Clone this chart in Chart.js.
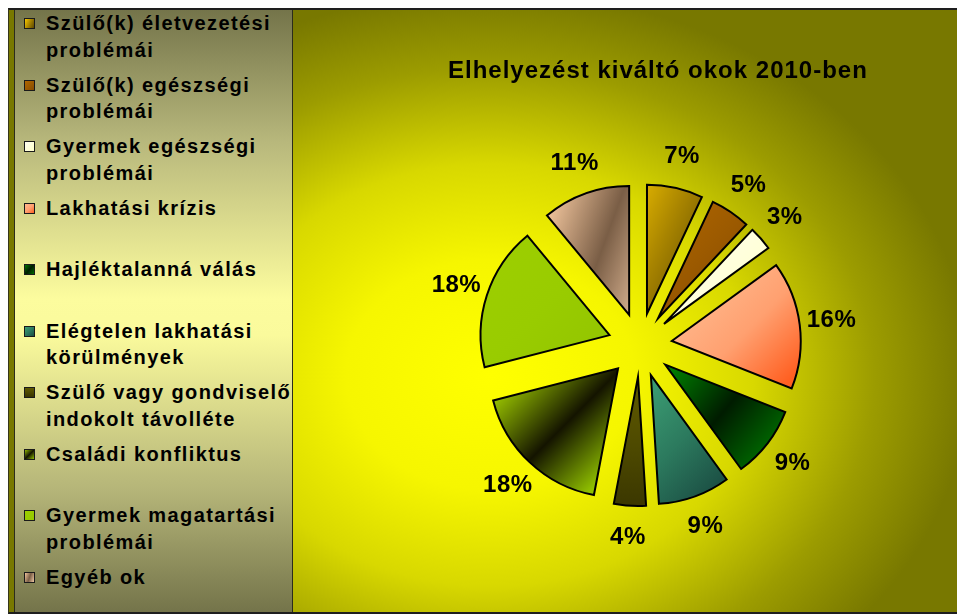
<!DOCTYPE html>
<html lang="hu">
<head>
<meta charset="utf-8">
<title>Elhelyezést kiváltó okok 2010-ben</title>
<script src="https://cdn.jsdelivr.net/npm/chart.js@4.4.1/dist/chart.umd.min.js"></script>
<style>
    html, body { margin: 0; padding: 0; background: #fff; }
    body { position: relative; width: 957px; height: 616px; overflow: hidden;
           font-family: "Liberation Sans", Arial, sans-serif; }
    #frame { position: absolute; left: 8px; top: 8px; width: 949px; height: 606px; box-sizing: border-box;
             border-top: 2px solid #1e1e1e; border-bottom: 2px solid #1e1e1e; border-left: 1px solid #35351c;
             background: #7c7c00; }
    #pie { position: absolute; left: 0; top: 0; }
    #legend { position: absolute; left: 5px; top: 0; width: 279px; height: 602px; box-sizing: border-box;
              border-left: 1px solid #2c2c1c; border-right: 1px solid #2c2c1c; overflow: hidden;
              background: linear-gradient(to bottom, #74744a 0%, #b8b87c 22%, #fcfc9e 48%, #fafa9c 54%, #b4b478 80%, #74744a 100%); }
    .item { position: relative; height: 61.5px; padding-left: 31px;
            font-weight: bold; font-size: 20px; line-height: 26.5px; letter-spacing: 1.4px;
            color: #000; white-space: nowrap; }
    .swatch { position: absolute; left: 9px; top: 8px; width: 11px; height: 11px; box-sizing: border-box;
              border: 1px solid #1a1a1a; }
    #title { position: absolute; left: 448px; top: 58px; line-height: 24px; white-space: nowrap;
             font-weight: bold; font-size: 24px; letter-spacing: 1px; color: #000; }
</style>
</head>
<body>
<div id="frame">
    <canvas id="pie" width="948" height="602"></canvas>
    <div id="legend"></div>
</div>
<div id="title">Elhelyezést kiváltó okok 2010-ben</div>
<script>
// Placement reasons, 2010 (share of all cases, %)
const reasons = [
    ['Szülő(k) életvezetési', 'problémái'],
    ['Szülő(k) egészségi', 'problémái'],
    ['Gyermek egészségi', 'problémái'],
    ['Lakhatási krízis'],
    ['Hajléktalanná válás'],
    ['Elégtelen lakhatási', 'körülmények'],
    ['Szülő vagy gondviselő', 'indokolt távolléte'],
    ['Családi konfliktus'],
    ['Gyermek magatartási', 'problémái'],
    ['Egyéb ok']
];
const shares = [7, 5, 3, 16, 9, 9, 4, 18, 18, 11];

// flat colours + gradient stops and direction (degrees, canvas orientation)
const fills = ['#b89000', '#9a5800', '#ffffd8', '#ff9a62', '#004400', '#2a7a5c', '#4a4600', '#557000', '#99cc00', '#b08c70'];
const shades = [
    ['#f8c800', '#a88400', '#5a4600'],
    ['#b06600', '#9c5a00', '#864a00'],
    ['#fffff0', '#ffffdc', '#ffffc8'],
    ['#ffb88c', '#ffa070', '#ff6022'],
    ['#007a00', '#001c00', '#006e00'],
    ['#3c9e74', '#2c7a5e', '#1a4c42'],
    ['#5e5800', '#4c4800', '#383400'],
    ['#90b800', '#141400', '#90c000'],
    ['#9cce00', '#99cc00', '#94c600'],
    ['#f0c49c', '#7a5e46', '#f0c8a4']
];
const shadeAngles = [25, 45, 45, 45, 40, 45, 90, 45, 45, 20];

const EXPLODE = 32;      // distance each wedge is pulled out from the centre
const LABEL_R = 193;     // distance of the percentage labels from the centre

function wedgeGradient(ctx, i, cx, cy, mid, r) {
    const gx = cx + Math.cos(mid) * r * 0.58;
    const gy = cy + Math.sin(mid) * r * 0.58;
    const a = shadeAngles[i] * Math.PI / 180;
    const h = r * 0.5;
    const g = ctx.createLinearGradient(gx - Math.cos(a) * h, gy - Math.sin(a) * h,
                                       gx + Math.cos(a) * h, gy + Math.sin(a) * h);
    shades[i].forEach((c, k, arr) => g.addColorStop(k / (arr.length - 1), c));
    return g;
}

const explodedPie = {
    id: 'explodedPie',
    beforeDraw(chart) {
        // yellow glow behind the plot
        const {ctx, width, height, chartArea} = chart;
        const cx = (chartArea.left + chartArea.right) / 2 - 150;
        const cy = (chartArea.top + chartArea.bottom) / 2 + 30;
        const sy = 0.8;
        ctx.save();
        ctx.translate(cx, cy);
        ctx.scale(1, sy);
        const g = ctx.createRadialGradient(0, 0, 0, 0, 0, 480);
        g.addColorStop(0, '#ffff00');
        g.addColorStop(0.3, '#f6f600');
        g.addColorStop(0.55, '#d8d800');
        g.addColorStop(0.8, '#9c9c00');
        g.addColorStop(1, '#787800');
        ctx.fillStyle = g;
        ctx.fillRect(-cx, -cy / sy, width, height / sy);
        ctx.restore();
    },
    beforeDatasetDraw(chart, args) {
        const ctx = chart.ctx;
        const ds = chart.data.datasets[args.index];
        ctx.save();
        args.meta.data.forEach((arc, i) => {
            const {x, y, startAngle, endAngle, outerRadius} = arc;
            const mid = (startAngle + endAngle) / 2;
            const cx = x + Math.cos(mid) * EXPLODE;
            const cy = y + Math.sin(mid) * EXPLODE;
            ctx.beginPath();
            ctx.moveTo(cx, cy);
            ctx.arc(cx, cy, outerRadius, startAngle, endAngle);
            ctx.closePath();
            ctx.fillStyle = wedgeGradient(ctx, i, cx, cy, mid, outerRadius);
            ctx.fill();
            ctx.lineJoin = 'miter';
            ctx.lineWidth = ds.borderWidth;
            ctx.strokeStyle = ds.borderColor;
            ctx.stroke();
        });
        ctx.restore();
        return false;
    },
    afterDatasetsDraw(chart) {
        const ctx = chart.ctx;
        const meta = chart.getDatasetMeta(0);
        const values = chart.data.datasets[0].data;
        ctx.save();
        ctx.font = 'bold 24px "Liberation Sans", Arial, sans-serif';
        ctx.letterSpacing = '0.5px';
        ctx.fillStyle = '#000';
        ctx.textAlign = 'center';
        ctx.textBaseline = 'middle';
        meta.data.forEach((arc, i) => {
            const mid = (arc.startAngle + arc.endAngle) / 2;
            ctx.fillText(values[i] + '%', arc.x + Math.cos(mid) * LABEL_R, arc.y + Math.sin(mid) * LABEL_R);
        });
        ctx.restore();
    }
};

const chart = new Chart(document.getElementById('pie'), {
    type: 'pie',
    data: {
        labels: reasons,
        datasets: [{
            data: shares,
            backgroundColor: fills,
            borderColor: '#000',
            borderWidth: 2
        }]
    },
    options: {
        responsive: false,
        animation: false,
        radius: 129,
        layout: { padding: { left: 314, right: 0, top: 68, bottom: 0 } },
        plugins: {
            legend: { display: false },
            tooltip: { enabled: false }
        }
    },
    plugins: [explodedPie]
});

// legend panel on the left, built from the chart's own labels
const legendBox = document.getElementById('legend');
chart.data.labels.forEach((lines, i) => {
    const item = document.createElement('div');
    item.className = 'item';
    const sw = document.createElement('span');
    sw.className = 'swatch';
    sw.style.background = `linear-gradient(${shadeAngles[i] + 90}deg, ${shades[i].join(', ')})`;
    item.appendChild(sw);
    lines.forEach((line, k) => {
        if (k) item.appendChild(document.createElement('br'));
        item.appendChild(document.createTextNode(line));
    });
    legendBox.appendChild(item);
});
</script>
</body>
</html>
